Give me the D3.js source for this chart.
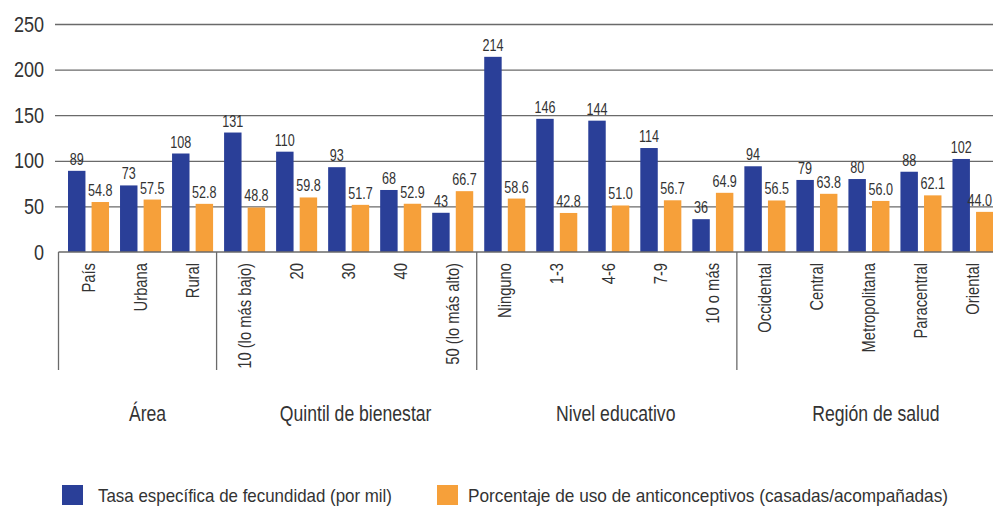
<!DOCTYPE html>
<html><head><meta charset="utf-8">
<script src="https://cdn.jsdelivr.net/npm/d3@7"></script>
<style>
html,body{margin:0;padding:0;background:#fff;}
svg{display:block;}
text{font-family:"Liberation Sans",Arial,sans-serif;fill:#333;}
</style></head>
<body>
<svg id="chart" width="993" height="506"></svg>
<script>
const categories = ["País","Urbana","Rural","10 (lo más bajo)","20","30","40","50 (lo más alto)","Ninguno","1-3","4-6","7-9","10 o más","Occidental","Central","Metropolitana","Paracentral","Oriental"];
const groups = ["Área","Quintil de bienestar","Nivel educativo","Región de salud"];
const groupOf = [0,0,0,1,1,1,1,1,2,2,2,2,2,3,3,3,3,3];
const fecundidad = [89,73,108,131,110,93,68,43,214,146,144,114,36,94,79,80,88,102];
const anticonceptivos = [54.8,57.5,52.8,48.8,59.8,51.7,52.9,66.7,58.6,42.8,51.0,56.7,64.9,56.5,63.8,56.0,62.1,44.0];
const seriesNames = ["Tasa específica de fecundidad (por mil)","Porcentaje de uso de anticonceptivos (casadas/acompañadas)"];
const seriesColors = ["#2a3f98","#f6a03a"];
const yTicks = [0,50,100,150,200,250];

const W = 993;
function condense(sel, f){
  sel.each(function(){
    const L = this.getComputedTextLength();
    d3.select(this).attr("textLength", L*f).attr("lengthAdjust","spacingAndGlyphs");
  });
}

const svg = d3.select("#chart");
const x = d3.scaleBand().domain(categories).range([62.5, 999]).padding(0);
const xs = d3.scaleBand().domain([0,1]).range([5.5, x.bandwidth()-5.5]).paddingInner(0.26);
const y = d3.scaleLinear().domain([0,250]).range([252, 24]);
const series = [fecundidad, anticonceptivos];
const fmt = [d3.format("d"), d3.format(".1f")];

// gridlines
const grid = svg.append("g").attr("transform","translate(55,0)")
  .call(d3.axisLeft(y).tickValues(yTicks.filter(v=>v>0)).tickSize(-950).tickFormat(""));
grid.select(".domain").remove();
grid.selectAll("line").attr("stroke","#6a6a6a").attr("stroke-width",1.3);

// y labels
const ya = svg.append("g").attr("transform","translate(44,0)")
  .call(d3.axisLeft(y).tickValues(yTicks).tickSize(0).tickPadding(0));
ya.select(".domain").remove();
ya.selectAll("text").attr("font-size",22).attr("fill","#333")
  .style("font-family",'"Liberation Sans",Arial,sans-serif')
  .call(condense, 0.82);

// bars
const cat = svg.append("g").selectAll("g").data(categories).join("g")
  .attr("transform", d => `translate(${x(d)},0)`);
series.forEach((s, k) => {
  cat.append("rect")
    .attr("x", xs(k)).attr("width", xs.bandwidth())
    .attr("y", (d,i) => y(s[i])).attr("height", (d,i) => y(0) - y(s[i]))
    .attr("fill", seriesColors[k]);
  cat.append("text")
    .attr("x", xs(k) + xs.bandwidth()/2).attr("y", (d,i) => y(s[i]) - 6)
    .attr("text-anchor","middle").attr("font-size",17).attr("fill","#333")
    .text((d,i) => fmt[k](s[i]))
    .call(condense, 0.74)
    .each(function(d){
      // keep labels inside the picture's right edge
      const b = this.getBBox();
      const gx = x(d);
      const over = gx + b.x + b.width - (W - 1);
      if (over > 0) d3.select(this).attr("x", +d3.select(this).attr("x") - over);
    });
});

// baseline / box top
svg.append("line").attr("x1", x.range()[0]-4).attr("x2", W).attr("y1", y(0)).attr("y2", y(0))
  .attr("stroke","#6a6a6a").attr("stroke-width",1.3);

// category axis labels
const xa = svg.append("g").attr("transform",`translate(0,${y(0)})`)
  .call(d3.axisBottom(x).tickSize(0).tickPadding(0));
xa.select(".domain").remove();
xa.selectAll("text")
  .attr("transform","rotate(-90)")
  .attr("x",-11).attr("y",0).attr("dy","0.35em")
  .attr("text-anchor","end").attr("font-size",18).attr("fill","#333")
  .style("font-family",'"Liberation Sans",Arial,sans-serif')
  .call(condense, 0.82);

// group dividers and labels
const groupExt = groups.map((g, gi) => {
  const idx = categories.map((c,i)=>i).filter(i => groupOf[i] === gi);
  return {name: g, x0: x(categories[idx[0]]), x1: x(categories[idx[idx.length-1]]) + x.bandwidth()};
});
const dividers = [groupExt[0].x0 - 4].concat(groupExt.slice(1).map(g => g.x0 - 2));
svg.append("g").selectAll("line").data(dividers).join("line")
  .attr("x1", d=>d).attr("x2", d=>d).attr("y1", y(0)).attr("y2", 370)
  .attr("stroke","#6a6a6a").attr("stroke-width",1.3);
svg.append("g").selectAll("text").data(groupExt).join("text")
  .attr("x", d => (d.x0 + Math.min(d.x1, 999))/2 + 7).attr("y", 421)
  .attr("text-anchor","middle").attr("font-size",22).attr("fill","#333")
  .text(d => d.name)
  .call(condense, 0.8);

// legend
const leg = svg.append("g").attr("transform","translate(62,485)");
const legX = [0, 375];
const legW = [294, 480];
seriesNames.forEach((n,k) => {
  const g = leg.append("g").attr("transform",`translate(${legX[k]},0)`);
  g.append("rect").attr("width",21).attr("height",20).attr("fill",seriesColors[k]);
  g.append("text").attr("x",k===0?36:31).attr("y",17).attr("font-size",18.5).attr("fill","#333")
    .attr("textLength", legW[k]).attr("lengthAdjust","spacingAndGlyphs")
    .text(n);
});
</script>
</body></html>
